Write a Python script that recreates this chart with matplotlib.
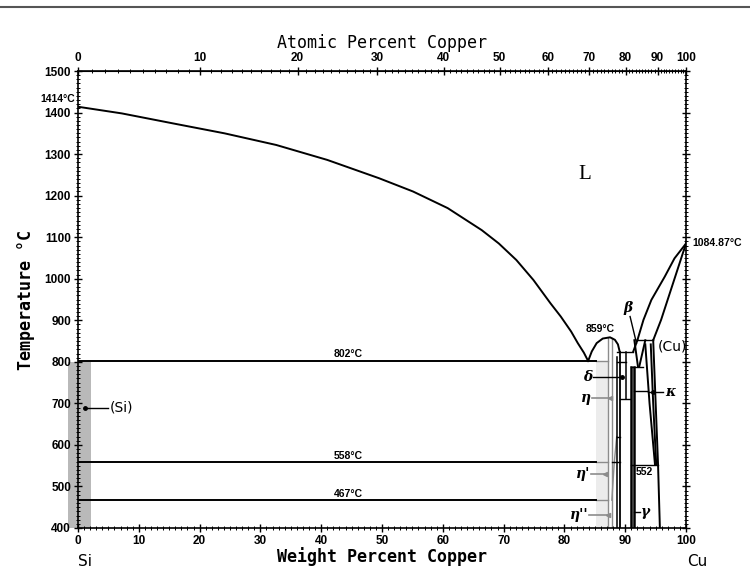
import numpy as np
import matplotlib
matplotlib.use("Agg")
import matplotlib.pyplot as plt
from matplotlib.lines import Line2D

# ---------------- data (weight % Cu, temperature degC) ----------------
wt_ticks = [0, 10, 20, 30, 40, 50, 60, 70, 80, 90, 100]
at_ticks = [0, 10, 20, 30, 40, 50, 60, 70, 80, 90, 100]
T_ticks = [400, 500, 600, 700, 800, 900, 1000, 1100, 1200, 1300, 1400, 1500]

# Si-side liquidus
liq_si_w = [0, 7.2, 15.6, 24.1, 32.6, 41.0, 49.5, 55.1, 60.8, 66.4, 69.2, 72.1,
            74.9, 77.7, 79.4, 81.1, 82.2, 83.2, 83.9]
liq_si_T = [1414, 1398, 1374, 1350, 1322, 1286, 1242, 1210, 1170, 1117, 1085, 1045,
            997, 941, 909, 873, 845, 822, 802]
# eta liquidus dome
eta_dome_w = [83.9, 84.5, 85.3, 86.3, 87.5, 88.3, 88.8, 89.1]
eta_dome_T = [802, 825, 845, 856, 859, 853, 842, 824]
# liquidus towards beta
liq_beta_w = [91.3, 92.0]
liq_beta_T = [824, 852]
# Cu-side liquidus
liq_cu_w = [100, 98.1, 96.5, 95.4, 94.3, 93.0, 92.0]
liq_cu_T = [1084.87, 1049, 1005, 977, 949, 901, 852]
# (Cu) solidus
sol_cu_w = [100, 95.9, 94.6]
sol_cu_T = [1084.87, 901, 852]
# (Cu) solvus
solv_cu_w = [94.6, 95.4, 95.7]
solv_cu_T = [852, 552, 400]
# kappa boundaries
kap_l_w = [93.3, 94.0, 94.9]
kap_l_T = [842, 700, 552]
kap_r_w = [94.2, 94.6, 95.1]
kap_r_T = [842, 700, 552]
# beta "V"
beta_l_w = [91.5, 92.1]
beta_l_T = [852, 788]
beta_r_w = [93.3, 92.3]
beta_r_T = [852, 788]
# vertical phase boundaries (w, T_top, T_bottom)
vert_w = [88.6, 89.2, 90.2, 90.9, 91.4]
vert_top = [812, 824, 824, 788, 788]
vert_bot = [400, 400, 710, 400, 400]
vert_lw = [1.1, 1.3, 1.1, 1.8, 1.8]
# horizontal invariant lines (T, w_start, w_end)
inv_T = [802, 558, 467, 824, 852, 800, 788, 730, 710, 620, 558, 552]
inv_w0 = [0, 0, 0, 88.6, 92.0, 88.6, 90.9, 91.4, 89.2, 88.6, 87.8, 90.9]
inv_w1 = [85.2, 85.2, 85.2, 91.3, 94.6, 90.2, 93.0, 93.6, 90.8, 89.2, 89.2, 95.4]
# eta phase (grey) boundaries
eta_l_w = [87.2, 87.2]
eta_l_T = [400, 857]
eta_r_w = [87.8, 87.8]
eta_r_T = [400, 857]
eta_s_w = [87.8, 88.2, 88.6]
eta_s_T = [467, 558, 620]
# shaded bands
si_band_w = [-1.6, 2.1]
si_band_T = [400, 800]
eta_band_w = [85.2, 87.2]
eta_band_T = [400, 802]

M_CU, M_SI = 63.546, 28.0855


def wt2at(w):
    w = np.clip(np.asarray(w, dtype=float), 0, 100)
    return 100 * (w / M_CU) / (w / M_CU + (100 - w) / M_SI)


def at2wt(a):
    a = np.clip(np.asarray(a, dtype=float), 0, 100)
    return 100 * a * M_CU / (a * M_CU + (100 - a) * M_SI)


fig = plt.figure(figsize=(7.5, 5.7), dpi=100)
ax = fig.add_axes([0.104, 0.0737, 0.8107, 0.8017])
ax.set_xlim(0, 100)
ax.set_ylim(400, 1500)

K = 'black'
G = '#8c8c8c'
LW = 1.4

# bands
ax.fill_between(si_band_w, si_band_T[0], si_band_T[1], color='#b9b9b9', lw=0, clip_on=False, zorder=1)
ax.fill_between(eta_band_w, eta_band_T[0], eta_band_T[1], color='#ececec', lw=0, zorder=1)

# curves
for w, T in [(liq_si_w, liq_si_T), (eta_dome_w, eta_dome_T), (liq_beta_w, liq_beta_T),
             (liq_cu_w, liq_cu_T), (sol_cu_w, sol_cu_T), (solv_cu_w, solv_cu_T),
             (kap_l_w, kap_l_T), (kap_r_w, kap_r_T), (beta_l_w, beta_l_T), (beta_r_w, beta_r_T)]:
    ax.plot(w, T, color=K, lw=LW, zorder=3, solid_joinstyle='round')

for w, t0, t1, lw in zip(vert_w, vert_top, vert_bot, vert_lw):
    ax.plot([w, w], [t0, t1], color=K, lw=lw, zorder=3)

for T, w0, w1 in zip(inv_T, inv_w0, inv_w1):
    ax.plot([w0, w1], [T, T], color=K, lw=LW if w0 == 0 else 1.0, zorder=3)

# grey continuation of horizontal lines across eta band
for T in [802, 558, 467]:
    ax.plot([85.2, 87.2], [T, T], color=G, lw=1.0, zorder=2)

for w, T in [(eta_l_w, eta_l_T), (eta_r_w, eta_r_T), (eta_s_w, eta_s_T)]:
    ax.plot(w, T, color=G, lw=1.0, zorder=2)

# ---------------- labels inside ----------------
lab = dict(fontsize=7.5, fontweight='bold', family='Liberation Sans')
ax.text(44.4, 806, '802°C', ha='center', va='bottom', **lab)
ax.text(44.4, 561, '558°C', ha='center', va='bottom', **lab)
ax.text(44.4, 470, '467°C', ha='center', va='bottom', **lab)
ax.text(85.8, 868, '859°C', ha='center', va='bottom', **lab)
ax.text(-0.5, 1420, '1414°C', ha='right', va='bottom', **lab)
ax.text(101.0, 1085, '1084.87°C', ha='left', va='center', clip_on=False, **lab)
ax.text(93.2, 535, '552', ha='center', va='center', **lab)
ax.text(83.4, 1250, 'L', ha='center', va='center', fontsize=15, family='Liberation Serif')

# (Si)
ax.plot([1.1, 5.0], [689, 689], color=K, lw=1.0, zorder=4)
ax.plot([1.1], [689], marker='o', ms=2.5, color=K, zorder=4)
ax.text(5.2, 689, '(Si)', ha='left', va='center', fontsize=10, family='DejaVu Sans')
# (Cu)
ax.text(95.3, 836, '(Cu)', ha='left', va='center', fontsize=10, family='DejaVu Sans')

gk = dict(fontsize=10, family='DejaVu Serif', style='italic', fontweight='bold')
# beta
ax.text(90.4, 930, 'β', ha='center', va='center', **gk)
ax.plot([90.8, 91.85], [909, 845], color=K, lw=1.0, zorder=4)
# delta
ax.text(84.6, 764, 'δ', ha='right', va='center', **gk)
ax.plot([84.7, 89.4], [764, 764], color=K, lw=1.0, zorder=4)
ax.plot([89.4], [764], marker='o', ms=2.5, color=K, zorder=4)
# eta
ax.text(84.4, 712, 'η', ha='right', va='center', **gk)
ax.plot([84.5, 87.5], [712, 712], color=G, lw=1.2, zorder=4)
ax.plot([87.5], [712], marker='<', ms=3, color=G, zorder=4)
# eta'
ax.text(84.3, 530, "η'", ha='right', va='center', **gk)
ax.plot([84.4, 86.7], [530, 530], color=G, lw=1.2, zorder=4)
ax.plot([86.7], [530], marker='<', ms=3, color=G, zorder=4)
# eta''
ax.text(84.0, 431, "η''", ha='right', va='center', **gk)
ax.plot([84.1, 87.2], [431, 431], color=G, lw=1.2, zorder=4)
ax.plot([87.2], [431], marker='<', ms=3, color=G, zorder=4)
# kappa
ax.plot([93.8, 96.2], [728, 728], color=K, lw=1.0, zorder=4)
ax.plot([94.6], [728], marker='o', ms=2.5, color=K, zorder=4)
ax.text(96.5, 728, 'κ', ha='left', va='center', **gk)
# gamma
ax.plot([91.4, 92.4], [439, 439], color=K, lw=1.0, zorder=4)
ax.text(92.6, 439, 'γ', ha='left', va='center', **gk)

# ---------------- axes ----------------
tickfont = dict(fontsize=8.5, fontweight='bold', family='Liberation Sans')
ax.set_xticks(wt_ticks)
ax.set_xticklabels([str(v) for v in wt_ticks], **tickfont)
ax.set_xticks(np.arange(0, 101, 1), minor=True)
ax.set_yticks(T_ticks)
ax.set_yticklabels([str(v) for v in T_ticks], **tickfont)
ax.set_yticks(np.arange(400, 1501, 10), minor=True)
ax.tick_params(which='major', direction='inout', length=6, width=1.0, top=False, right=True, pad=2)
ax.tick_params(which='minor', direction='inout', length=3, width=0.7, top=False, right=True)
for s in ax.spines.values():
    s.set_linewidth(1.2)

secax = ax.secondary_xaxis('top', functions=(wt2at, at2wt))
secax.set_xticks(at_ticks)
secax.set_xticklabels([str(v) for v in at_ticks], **tickfont)
secax.set_xticks(np.arange(0, 101, 1), minor=True)
secax.tick_params(which='major', direction='inout', length=6, width=1.0, pad=2)
secax.tick_params(which='minor', direction='inout', length=3, width=0.7)
secax.set_xlabel('Atomic Percent Copper', fontsize=12, family='DejaVu Sans Mono', labelpad=3)

ax.set_xlabel('Weight Percent Copper', fontsize=12, family='DejaVu Sans Mono', fontweight='bold', labelpad=0)
ax.set_ylabel('Temperature °C', fontsize=12, family='DejaVu Sans Mono', fontweight='bold', labelpad=7)

fig.text(85 / 750, 1 - 562 / 570, 'Si', ha='center', va='center', fontsize=11, family='DejaVu Sans')
fig.text(697 / 750, 1 - 562 / 570, 'Cu', ha='center', va='center', fontsize=11, family='DejaVu Sans')

fig.add_artist(Line2D([0, 1], [1 - 7 / 570, 1 - 7 / 570], transform=fig.transFigure, color='#555555', lw=1.5))

fig.savefig('out.png', dpi=100)
